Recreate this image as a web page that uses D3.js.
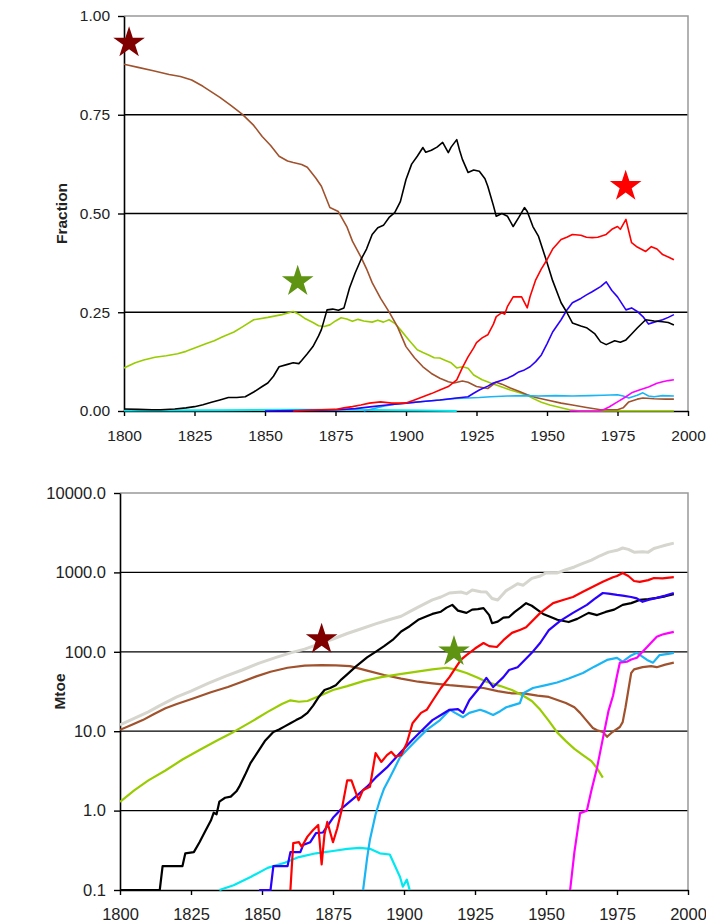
<!DOCTYPE html>
<html>
<head>
<meta charset="utf-8">
<script src="https://cdn.jsdelivr.net/npm/d3@7"></script>
<style>
  body { margin: 0; background: #fff; }
  svg text { font-family: 'Liberation Sans', Arial, sans-serif; fill: #222; }
</style>
</head>
<body>
<div id="chart"></div>
<script>
// ---- top panel: share of primary energy (fraction) ----
const biomassShare = [[1800,0.878],[1805,0.87],[1810,0.862],[1813,0.857],[1816,0.852],[1820,0.847],[1824,0.838],[1828,0.822],[1831,0.808],[1834,0.794],[1838,0.773],[1842,0.751],[1846,0.723],[1849,0.695],[1852,0.672],[1855,0.645],[1858,0.633],[1860,0.629],[1863,0.624],[1865,0.617],[1868,0.59],[1870,0.569],[1873,0.515],[1876,0.505],[1879,0.467],[1881,0.43],[1884,0.39],[1886,0.36],[1888,0.325],[1891,0.285],[1894,0.251],[1897,0.213],[1900,0.163],[1903,0.135],[1906,0.112],[1909,0.095],[1912,0.083],[1915,0.074],[1917,0.071],[1920,0.076],[1922,0.073],[1925,0.062],[1929,0.057],[1932,0.073],[1934,0.068],[1937,0.058],[1940,0.05],[1943,0.041],[1946,0.034],[1950,0.028],[1955,0.02],[1959,0.015],[1964,0.009],[1969,0.003],[1975,0.003],[1977,0.008],[1979,0.023],[1982,0.03],[1984,0.033],[1988,0.031],[1992,0.03],[1995,0.03]];
const coalShare = [[1800,0.005],[1805,0.004],[1810,0.003],[1813,0.003],[1818,0.005],[1822,0.008],[1825,0.011],[1828,0.016],[1831,0.022],[1834,0.028],[1837,0.034],[1840,0.034],[1843,0.036],[1846,0.048],[1849,0.062],[1851,0.071],[1853,0.088],[1855,0.112],[1858,0.118],[1860,0.122],[1862,0.12],[1863,0.128],[1865,0.145],[1867,0.163],[1869,0.19],[1870,0.206],[1872,0.256],[1874,0.258],[1876,0.255],[1878,0.261],[1880,0.312],[1882,0.35],[1884,0.383],[1886,0.41],[1888,0.447],[1890,0.464],[1892,0.47],[1894,0.49],[1896,0.502],[1898,0.53],[1900,0.586],[1902,0.625],[1904,0.645],[1906,0.667],[1907,0.655],[1909,0.66],[1911,0.668],[1913,0.68],[1915,0.654],[1916,0.668],[1918,0.687],[1919,0.66],[1920,0.637],[1922,0.604],[1924,0.61],[1926,0.607],[1928,0.588],[1929,0.569],[1931,0.52],[1932,0.493],[1934,0.5],[1936,0.493],[1938,0.467],[1940,0.49],[1942,0.515],[1943,0.505],[1945,0.467],[1947,0.442],[1950,0.376],[1952,0.33],[1955,0.274],[1957,0.25],[1959,0.223],[1962,0.215],[1964,0.211],[1967,0.195],[1969,0.175],[1971,0.168],[1974,0.178],[1976,0.174],[1978,0.18],[1980,0.195],[1982,0.21],[1985,0.231],[1988,0.228],[1991,0.226],[1993,0.224],[1995,0.218]];
const fodderShare = [[1800,0.109],[1804,0.122],[1807,0.129],[1811,0.136],[1815,0.14],[1819,0.145],[1822,0.151],[1826,0.162],[1829,0.17],[1832,0.178],[1835,0.188],[1839,0.2],[1842,0.213],[1846,0.231],[1851,0.237],[1856,0.244],[1860,0.252],[1862,0.245],[1864,0.235],[1867,0.224],[1869,0.216],[1871,0.214],[1873,0.218],[1875,0.228],[1877,0.236],[1879,0.233],[1881,0.227],[1883,0.232],[1885,0.228],[1888,0.225],[1890,0.23],[1892,0.225],[1894,0.231],[1896,0.222],[1898,0.206],[1901,0.18],[1904,0.155],[1906,0.148],[1908,0.142],[1910,0.135],[1912,0.134],[1914,0.128],[1916,0.122],[1918,0.109],[1920,0.112],[1922,0.108],[1924,0.091],[1927,0.079],[1930,0.071],[1932,0.066],[1935,0.058],[1937,0.053],[1940,0.047],[1943,0.04],[1945,0.032],[1948,0.022],[1951,0.015],[1955,0.008],[1958,0.003],[1962,0],[1995,0]];
const oilShare = [[1860,0],[1865,0.002],[1870,0.003],[1875,0.004],[1878,0.008],[1881,0.011],[1884,0.015],[1887,0.02],[1891,0.023],[1895,0.02],[1900,0.02],[1903,0.028],[1906,0.036],[1909,0.044],[1912,0.053],[1915,0.062],[1918,0.079],[1920,0.11],[1922,0.137],[1924,0.16],[1925,0.173],[1927,0.185],[1929,0.193],[1931,0.22],[1932,0.239],[1934,0.249],[1935,0.245],[1936,0.265],[1938,0.289],[1941,0.289],[1943,0.261],[1944,0.29],[1946,0.332],[1948,0.36],[1950,0.383],[1952,0.41],[1955,0.434],[1957,0.44],[1959,0.447],[1962,0.445],[1964,0.44],[1966,0.439],[1968,0.44],[1971,0.447],[1973,0.46],[1975,0.467],[1976,0.46],[1978,0.485],[1979,0.455],[1980,0.426],[1982,0.415],[1985,0.404],[1987,0.416],[1989,0.41],[1991,0.396],[1993,0.39],[1995,0.383]];
const gasShare = [[1850,0],[1860,0.001],[1870,0.002],[1876,0.003],[1882,0.006],[1888,0.011],[1894,0.016],[1900,0.02],[1906,0.024],[1912,0.028],[1918,0.033],[1922,0.036],[1924,0.045],[1926,0.053],[1929,0.063],[1931,0.071],[1934,0.078],[1936,0.083],[1938,0.09],[1940,0.099],[1942,0.104],[1944,0.112],[1946,0.125],[1948,0.142],[1950,0.17],[1952,0.2],[1955,0.231],[1957,0.255],[1959,0.274],[1962,0.285],[1964,0.294],[1966,0.302],[1969,0.315],[1971,0.327],[1973,0.305],[1975,0.289],[1978,0.256],[1980,0.261],[1982,0.252],[1984,0.239],[1986,0.22],[1988,0.225],[1991,0.231],[1993,0.237],[1995,0.244]];
const hydroShare = [[1885,0],[1888,0.005],[1892,0.012],[1896,0.017],[1900,0.02],[1906,0.024],[1912,0.028],[1918,0.032],[1922,0.033],[1926,0.034],[1930,0.036],[1936,0.038],[1942,0.039],[1947,0.038],[1953,0.039],[1959,0.038],[1965,0.039],[1970,0.04],[1975,0.041],[1977,0.038],[1979,0.033],[1982,0.04],[1984,0.046],[1986,0.038],[1988,0.036],[1991,0.039],[1995,0.038]];
const windShare = [[1800,0.001],[1835,0.002],[1860,0.003],[1880,0.003],[1895,0.002],[1905,0.001],[1918,0]];
const nuclearShare = [[1958,0],[1968,0],[1970,0.003],[1972,0.01],[1975,0.023],[1978,0.036],[1980,0.046],[1983,0.054],[1986,0.061],[1989,0.07],[1991,0.074],[1993,0.077],[1995,0.079]];

// ---- bottom panel: consumption in Mtoe (log scale) ----
const totalMtoe = [[1800,12],[1805,14.5],[1810,17.5],[1814,21],[1820,27],[1825,32],[1831,40],[1837,49],[1843,59],[1849,72],[1855,85],[1860,97],[1865,108],[1870,125],[1875,145],[1880,170],[1885,195],[1890,225],[1895,255],[1899,280],[1902,320],[1905,365],[1910,450],[1913,490],[1916,550],[1920,567],[1922,540],[1924,600],[1927,570],[1929,567],[1931,470],[1933,450],[1936,590],[1938,650],[1940,720],[1942,690],[1945,840],[1948,900],[1950,985],[1954,985],[1957,1080],[1960,1170],[1963,1300],[1966,1430],[1969,1620],[1972,1800],[1975,1900],[1977,2030],[1979,1950],[1981,1800],[1984,1820],[1986,1800],[1988,2000],[1990,2100],[1992,2200],[1995,2340]];
const biomassMtoe = [[1800,10.4],[1804,12],[1808,13.8],[1812,16.5],[1816,19.5],[1820,22],[1826,26],[1832,31],[1838,36],[1843,42],[1848,49],[1853,56],[1859,63],[1865,67],[1871,68],[1876,67.5],[1881,66],[1887,58],[1893,51],[1899,46],[1905,42],[1910,40],[1916,38],[1922,36.5],[1928,35],[1933,32],[1938,30],[1942,30],[1947,28],[1951,27],[1955,24],[1957,22.6],[1960,20],[1962,17],[1964,14],[1966.5,11],[1968,10.3],[1970,9.8],[1971.5,8.5],[1973,9.5],[1976,11.3],[1977,13],[1978,20],[1979,33],[1980,54],[1981,60],[1984,64],[1987,66],[1989,64],[1992,69],[1995,73]];
const fodderMtoe = [[1800,1.29],[1805,1.8],[1810,2.4],[1816,3.2],[1822,4.4],[1828,5.8],[1834,7.6],[1840,9.8],[1846,13],[1852,17.5],[1857,22],[1860,24.5],[1863,23.5],[1866,24],[1870,27.5],[1875,33],[1880,37],[1886,43],[1892,48],[1898,52],[1904,56],[1910,60],[1915,63],[1918,60],[1922,54],[1926,47],[1929,42],[1934,37],[1938,33],[1942,28],[1945,24],[1948,18.6],[1951,13.5],[1954,9.6],[1957,7.5],[1960,6],[1963,5],[1966,4.2],[1968,3.4],[1970,2.6]];
const coalMtoe = [[1800,0.1],[1814,0.1],[1815,0.2],[1822,0.2],[1823,0.29],[1826,0.3],[1828,0.4],[1830,0.55],[1832,0.75],[1833,0.94],[1834,0.9],[1835,1.3],[1837,1.45],[1839,1.5],[1841,1.75],[1842,2],[1844,2.8],[1846,4],[1849,5.8],[1851,7.5],[1854,9.8],[1856,10.5],[1858,11.5],[1860,12.6],[1862,13.8],[1864,15],[1866,17],[1868,21],[1870,27],[1872,33],[1874,35],[1876,38],[1878,45],[1880,52],[1883,65],[1887,85],[1890,100],[1893,118],[1896,141],[1899,180],[1902,210],[1905,253],[1908,280],[1910,300],[1913,320],[1915,360],[1917,390],[1919,330],[1922,309],[1924,340],[1926,345],[1928,355],[1930,290],[1931,229],[1933,240],[1935,270],[1937,274],[1939,318],[1941,360],[1943,410],[1945,380],[1947,338],[1949,300],[1951,280],[1954,253],[1958,237],[1961,260],[1965,309],[1968,290],[1971,318],[1974,340],[1977,390],[1980,410],[1983,450],[1986,460],[1989,478],[1992,500],[1995,530]];
const oilMtoe = [[1860,0.1],[1861,0.39],[1863,0.4],[1864,0.35],[1866,0.47],[1868,0.57],[1869.8,0.66],[1871,0.21],[1872,0.5],[1873,0.72],[1875,0.4],[1876.5,0.6],[1878,1],[1880,2.4],[1881.5,2.4],[1884,1.35],[1885.5,1.8],[1888,2],[1890,5.3],[1892,4.1],[1894,5],[1895.5,5.5],[1897,4.8],[1899,5],[1901,7.1],[1903,12.6],[1906,17],[1908,18.6],[1910,24],[1913,35],[1916,48],[1920,79],[1922,91],[1925,110],[1928,129],[1930,118],[1932.7,115],[1935,140],[1938,173],[1941,190],[1943,204],[1948,309],[1952.5,410],[1956,450],[1959.5,490],[1963,570],[1966.5,660],[1970,760],[1973.6,870],[1975,900],[1977,985],[1979,900],[1981,780],[1983,760],[1986,800],[1988,850],[1991,840],[1995,870]];
const gasMtoe = [[1849,0.1],[1853,0.1],[1854,0.2],[1859,0.2],[1860,0.3],[1863.5,0.3],[1864.5,0.37],[1867,0.4],[1869,0.52],[1871.5,0.53],[1875,0.81],[1878.5,1.1],[1883,1.5],[1887,2],[1890,2.6],[1894,3.5],[1898.6,5.3],[1903,7.8],[1906,10],[1910,13.8],[1913,16],[1916,18.6],[1919,19],[1920.8,17],[1923,24.5],[1926.8,36],[1929,47],[1931.4,36],[1935,48],[1937,59],[1940,64],[1945,97],[1948,130],[1951,187],[1955,245],[1959.5,309],[1964.4,390],[1967,460],[1970,550],[1972,540],[1975,520],[1977,510],[1980,490],[1982,470],[1984,426],[1986,450],[1989,478],[1992,510],[1995,550]];
const hydroMtoe = [[1885.6,0.1],[1887,0.25],[1888,0.43],[1890,0.9],[1891.5,1.35],[1893,1.9],[1895,2.6],[1897,3.6],[1898.6,4.7],[1901,5.8],[1904.5,7.8],[1908,10.4],[1912.7,13.8],[1916.2,18.6],[1918,17],[1920.8,15],[1923,17],[1926.8,18.6],[1929,17.5],[1931.4,16],[1934,18],[1936,20],[1940.8,22.6],[1942,30],[1945.4,35],[1950,38],[1953.9,41],[1958,46],[1963,54],[1967,65],[1971.5,79],[1975,84],[1977,75],[1980,90],[1982,97],[1985.6,79],[1987.7,73],[1990,91],[1993,94],[1995,97]];
const windMtoe = [[1835,0.1],[1840,0.115],[1846,0.146],[1852,0.19],[1858,0.22],[1863,0.26],[1869,0.29],[1875,0.31],[1880,0.33],[1884.5,0.34],[1888,0.33],[1891.5,0.29],[1895,0.28],[1898.6,0.146],[1899.6,0.11],[1901,0.135],[1902,0.1]];
const nuclearMtoe = [[1958.5,0.1],[1960,0.3],[1962,0.93],[1964.4,1],[1966,1.8],[1968,3.5],[1970,8],[1972,18],[1973.6,28],[1975,50],[1976,73],[1978.5,75],[1980,80],[1982,84],[1984,100],[1985.6,115],[1987,130],[1989,155],[1991,165],[1993,172],[1995,178]];

// star markers [year, value, colour]
const shareStars = [[1801.8, 0.932, '#800000'], [1861.6, 0.328, '#5e9412'], [1977.9, 0.569, '#ff0000']];
const mtoeStars = [[1871.0, 143.6, '#800000'], [1917.6, 100.6, '#5e9412']];

const xTicks = [1800, 1825, 1850, 1875, 1900, 1925, 1950, 1975, 2000];
const shareTicks = [0, 0.25, 0.5, 0.75, 1];
const mtoeTicks = [0.1, 1, 10, 100, 1000, 10000];

const colors = {
  total: '#d6d6ce', biomass: '#a0522d', fodder: '#99cc00', coal: '#000000',
  oil: '#ff0000', gas: '#2a00ff', hydro: '#19b5f5', wind: '#00e8f0', nuclear: '#ff00ff',
};

const width = 706;
const height = 924;

const svg = d3.select('#chart').append('svg')
  .attr('width', width)
  .attr('height', height);

const drawPanel = (opts) => {
  const {x0, x1, y0, y1, yScale, yTicks, yFormat, series, stars, lineWidth, title, titleX, id, yLabelSize, xLabelSize, xLabelGap} = opts;
  const xScale = d3.scaleLinear().domain([1800, 2000]).range([x0, x1]);
  const g = svg.append('g');

  g.append('clipPath').attr('id', id)
    .append('rect').attr('x', x0).attr('y', y0 - 2).attr('width', x1 - x0).attr('height', y1 - y0 + 3);

  // gridlines
  g.selectAll('.grid')
    .data(yTicks.slice(1, -1))
    .join('line')
    .attr('x1', x0).attr('x2', x1)
    .attr('y1', (d) => yScale(d)).attr('y2', (d) => yScale(d))
    .attr('stroke', '#000').attr('stroke-width', 1.3);

  // plot border top / right
  g.append('path')
    .attr('d', `M${x0},${y0}H${x1}V${y1}`)
    .attr('fill', 'none').attr('stroke', '#999').attr('stroke-width', 1.5);

  // y axis
  g.append('g')
    .attr('transform', `translate(${x0},0)`)
    .call(d3.axisLeft(yScale).tickValues(yTicks).tickFormat(yFormat).tickSize(6).tickPadding(8).tickSizeOuter(0))
    .call((a) => a.select('.domain').attr('stroke-width', 1.6))
    .call((a) => a.selectAll('line').attr('stroke-width', 1.4))
    .call((a) => a.selectAll('text').style('font-size', yLabelSize + 'px').attr('fill', '#222'));

  // x axis
  g.append('g')
    .attr('transform', `translate(0,${y1})`)
    .call(d3.axisBottom(xScale).tickValues(xTicks).tickFormat(d3.format('d')).tickSize(5).tickPadding(xLabelGap).tickSizeOuter(0))
    .call((a) => a.select('.domain').attr('stroke-width', 1.6))
    .call((a) => a.selectAll('line').attr('stroke-width', 1.4))
    .call((a) => a.selectAll('text').style('font-size', xLabelSize + 'px').attr('fill', '#222'));

  // axis title
  g.append('text')
    .attr('transform', `translate(${titleX},${(y0 + y1) / 2}) rotate(-90)`)
    .attr('text-anchor', 'middle')
    .style('font-size', '15.5px')
    .style('font-weight', 'bold')
    .text(title);

  const line = d3.line()
    .x((d) => xScale(d[0]))
    .y((d) => yScale(d[1]));

  g.append('g')
    .attr('clip-path', `url(#${id})`)
    .selectAll('path')
    .data(series)
    .join('path')
    .attr('fill', 'none')
    .attr('stroke', (d) => d.color)
    .attr('stroke-width', (d) => d.width || lineWidth)
    .attr('stroke-linejoin', 'round')
    .attr('d', (d) => line(d.values));

  g.selectAll('.star')
    .data(stars)
    .join('path')
    .attr('transform', (d) => `translate(${xScale(d[0])},${yScale(d[1])})`)
    .attr('d', d3.symbol(d3.symbolStar, 310))
    .attr('fill', (d) => d[2]);
};

// top panel
drawPanel({
  id: 'clipShare',
  x0: 124, x1: 688, y0: 16, y1: 411,
  yScale: d3.scaleLinear().domain([0, 1]).range([411, 16]),
  yTicks: shareTicks,
  yFormat: d3.format('.2f'),
  title: 'Fraction', titleX: 67,
  yLabelSize: 15.5, xLabelSize: 15.5, xLabelGap: 14,
  lineWidth: 1.6,
  stars: shareStars,
  series: [
    {values: windShare, color: colors.wind, width: 2},
    {values: fodderShare, color: colors.fodder},
    {values: biomassShare, color: colors.biomass},
    {values: hydroShare, color: colors.hydro},
    {values: gasShare, color: colors.gas},
    {values: coalShare, color: colors.coal},
    {values: oilShare, color: colors.oil},
    {values: nuclearShare, color: colors.nuclear},
  ],
});

// bottom panel
drawPanel({
  id: 'clipMtoe',
  x0: 120, x1: 688, y0: 493, y1: 890,
  yScale: d3.scaleLog().domain([0.1, 10000]).range([890, 493]),
  yTicks: mtoeTicks,
  yFormat: d3.format('.1f'),
  title: 'Mtoe', titleX: 65,
  yLabelSize: 16.5, xLabelSize: 16.5, xLabelGap: 13,
  lineWidth: 2.2,
  stars: mtoeStars,
  series: [
    {values: totalMtoe, color: colors.total, width: 3},
    {values: windMtoe, color: colors.wind},
    {values: biomassMtoe, color: colors.biomass},
    {values: fodderMtoe, color: colors.fodder},
    {values: hydroMtoe, color: colors.hydro},
    {values: coalMtoe, color: colors.coal},
    {values: gasMtoe, color: colors.gas},
    {values: oilMtoe, color: colors.oil},
    {values: nuclearMtoe, color: colors.nuclear},
  ],
});
</script>
</body>
</html>
